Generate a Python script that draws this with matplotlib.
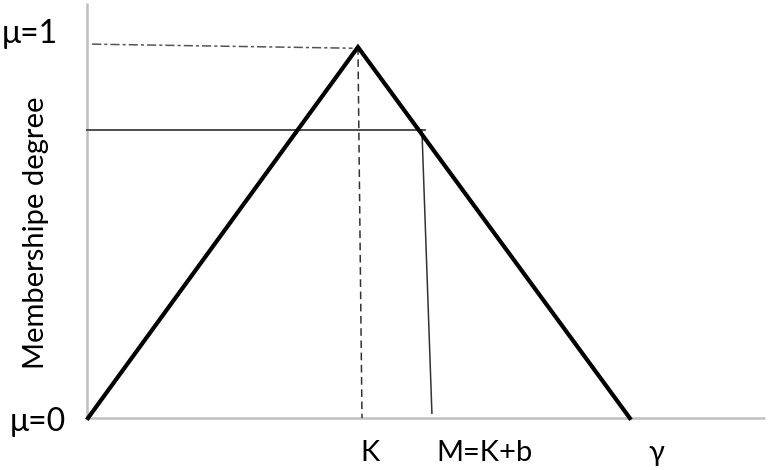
import matplotlib
matplotlib.use("Agg")
import matplotlib.pyplot as plt

plt.rcParams['font.family'] = ['Lato', 'DejaVu Sans']

# triangular membership function: foot, peak (K), end (gamma)
tri_x = [0, 10, 20.07]
tri_mu = [0, 1, 0]

# cut level and the point M = K + b
mu_cut = 0.776
m_top = 12.37
m_bottom = 12.74

x_labels = ["K", "M=K+b", "γ"]
x_label_pos = [10.44, 14.67, 21.07]

fig = plt.figure(figsize=(7.68, 4.70), dpi=100)
ax = fig.add_axes([0, 0, 1, 1])
ax.set_xlim(-3.26, 25.19)
ax.set_ylim(-0.140, 1.127)
ax.axis('off')

# axes drawn by hand (light grey)
ax.plot([-0.04, -0.04], [0, 1.12], color='#bfbfbf', lw=1.8, solid_capstyle='butt')
ax.plot([-0.04, 25.07], [0, 0], color='#bfbfbf', lw=1.8, solid_capstyle='butt')

# guide lines
ax.plot([0.15, tri_x[1] - 0.2], [1.008, 0.997], color='#555555', lw=1.1,
        linestyle=(0, (6, 2, 2, 2)))
ax.plot([tri_x[1], tri_x[1] + 0.15], [1, 0], color='#333333', lw=1.1,
        linestyle=(0, (5, 3)))
ax.plot([-0.04, m_top + 0.1], [mu_cut, mu_cut], color='#404040', lw=1.3)
ax.plot([m_top, m_bottom], [mu_cut, 0.013], color='#333333', lw=1.1)

# the triangle
ax.plot(tri_x, tri_mu, color='black', lw=3, solid_joinstyle='miter')

# text
ax.text(-2.15, 1.035, "μ=1", fontsize=23, ha='center', va='center')
ax.text(-1.85, -0.01, "μ=0", fontsize=23, ha='center', va='center')
ax.text(-1.93, 0.50, "Membershipe degree", fontsize=21, rotation=90,
        ha='center', va='center')
for lab, xp in zip(x_labels, x_label_pos):
    ax.text(xp, -0.095, lab, fontsize=21, ha='center', va='center')

fig.savefig("out.png", dpi=100)
